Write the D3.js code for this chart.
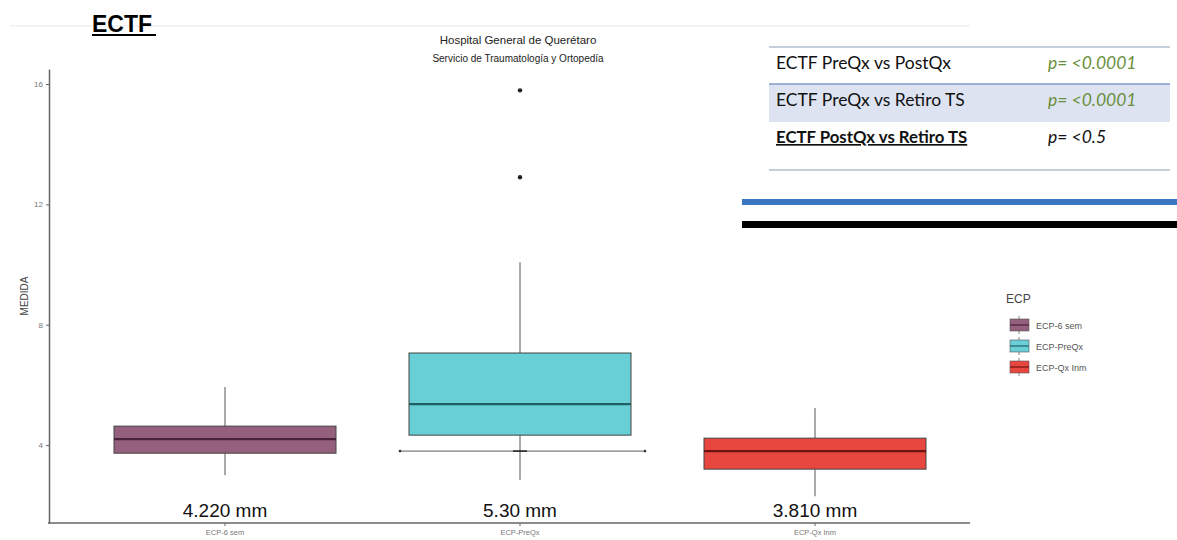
<!DOCTYPE html>
<html><head><meta charset="utf-8">
<script src="https://cdn.jsdelivr.net/npm/d3@7"></script>
<style>body{margin:0;background:#fff;}svg{display:block;}</style>
</head><body>
<svg id="c" width="1177" height="540"></svg>
<script>
const categories = ["ECP-6 sem", "ECP-PreQx", "ECP-Qx Inm"];
const q1 = [3.73, 4.33, 3.20];
const median = [4.20, 5.36, 3.80];
const q3 = [4.63, 7.06, 4.23];
const whiskerLow = [3.00, 2.84, 2.30];
const whiskerHigh = [5.93, 10.08, 5.23];
const outliers = [[], [12.90, 15.79], []];
const meanLabels = ["4.220 mm", "5.30 mm", "3.810 mm"];
const fills = ["#95607d", "#68cfd6", "#e8473f"];
const medianColors = ["#4a2238", "#1f5e62", "#6e1410"];
const yTicks = [4, 8, 12, 16];
const refLineValue = 3.80;
const tableRows = ["ECTF PreQx vs PostQx", "ECTF PreQx vs Retiro TS", "ECTF PostQx vs Retiro TS"];
const tableP = ["p= <0.0001", "p= <0.0001", "p= <0.5"];

const svg = d3.select("#c");
const x = d3.scalePoint().domain(categories).range([225, 815]);
const y = d3.scaleLinear().domain([1.41, 16.5]).range([523, 69]);
const boxW = 222;

// faint top line
svg.append("line").attr("x1",10).attr("x2",970).attr("y1",26).attr("y2",26).attr("stroke","#f0f0f0").attr("stroke-width",1.5);

// ECTF header
svg.append("text").attr("x",92).attr("y",32).attr("font-family","Liberation Sans, Arial").attr("font-weight","bold").attr("font-size",23).attr("fill","#000").text("ECTF");
svg.append("line").attr("x1",92).attr("x2",156).attr("y1",35).attr("y2",35).attr("stroke","#000").attr("stroke-width",2);

// title
svg.append("text").attr("x",518).attr("y",44).attr("text-anchor","middle").attr("font-family","Liberation Sans, Arial").attr("font-size",11.5).attr("fill","#222").text("Hospital General de Querétaro");
svg.append("text").attr("x",518).attr("y",62).attr("text-anchor","middle").attr("font-family","Liberation Sans, Arial").attr("font-size",10).attr("fill","#222").text("Servicio de Traumatología y Ortopedía");

// axes
const yAxis = d3.axisLeft(y).tickValues(yTicks).tickSize(3).tickSizeOuter(0).tickPadding(3);
const gy = svg.append("g").attr("transform","translate(49,0)").call(yAxis);
gy.select(".domain").attr("stroke","#666").attr("stroke-width",1.5);
gy.selectAll(".tick line").attr("stroke","#666");
gy.selectAll(".tick text").attr("font-family","Liberation Sans, Arial").attr("font-size",8).attr("fill","#777");

svg.append("line").attr("x1",48).attr("x2",970).attr("y1",523).attr("y2",523).attr("stroke","#666").attr("stroke-width",1.5);
categories.forEach(c => {
  svg.append("line").attr("x1",x(c)).attr("x2",x(c)).attr("y1",523).attr("y2",526).attr("stroke","#666");
  svg.append("text").attr("x",x(c)).attr("y",535).attr("text-anchor","middle").attr("font-family","Liberation Sans, Arial").attr("font-size",7.5).attr("fill","#777").text(c);
});

svg.append("text").attr("transform","translate(28,296) rotate(-90)").attr("text-anchor","middle").attr("font-family","Liberation Sans, Arial").attr("font-size",10).attr("fill","#444").text("MEDIDA");

// boxes
categories.forEach((c,i) => {
  const cx = x(c);
  svg.append("line").attr("x1",cx).attr("x2",cx).attr("y1",y(whiskerHigh[i])).attr("y2",y(q3[i])).attr("stroke","#555").attr("stroke-width",1);
  svg.append("line").attr("x1",cx).attr("x2",cx).attr("y1",y(q1[i])).attr("y2",y(whiskerLow[i])).attr("stroke","#555").attr("stroke-width",1);
  svg.append("rect").attr("x",cx-boxW/2).attr("y",y(q3[i])).attr("width",boxW).attr("height",y(q1[i])-y(q3[i])).attr("fill",fills[i]).attr("stroke","#444").attr("stroke-width",1);
  svg.append("line").attr("x1",cx-boxW/2).attr("x2",cx+boxW/2).attr("y1",y(median[i])).attr("y2",y(median[i])).attr("stroke",medianColors[i]).attr("stroke-width",2.2);
  outliers[i].forEach(v => svg.append("circle").attr("cx",cx).attr("cy",y(v)).attr("r",2.2).attr("fill","#222"));
  svg.append("text").attr("x",cx).attr("y",517).attr("text-anchor","middle").attr("font-family","Liberation Sans, Arial").attr("font-size",19).attr("fill","#111").text(meanLabels[i]);
});

// reference line across PreQx
const rc = x(categories[1]);
svg.append("line").attr("x1",rc-120).attr("x2",rc+125).attr("y1",y(refLineValue)).attr("y2",y(refLineValue)).attr("stroke","#333").attr("stroke-width",0.8);
svg.append("circle").attr("cx",rc-120).attr("cy",y(refLineValue)).attr("r",1.3).attr("fill","#333");
svg.append("circle").attr("cx",rc+125).attr("cy",y(refLineValue)).attr("r",1.3).attr("fill","#333");
svg.append("line").attr("x1",rc-7).attr("x2",rc+7).attr("y1",y(refLineValue)).attr("y2",y(refLineValue)).attr("stroke","#222").attr("stroke-width",1.5);

// legend
svg.append("text").attr("x",1006).attr("y",303).attr("font-family","Liberation Sans, Arial").attr("font-size",12).attr("fill","#444").text("ECP");
categories.forEach((c,i) => {
  const cy = 325 + i*21;
  svg.append("line").attr("x1",1019).attr("x2",1019).attr("y1",cy-9).attr("y2",cy+9).attr("stroke","#666").attr("stroke-width",0.8);
  svg.append("rect").attr("x",1010).attr("y",cy-6).attr("width",19).attr("height",12).attr("fill",fills[i]).attr("stroke","#555").attr("stroke-width",0.6);
  svg.append("line").attr("x1",1010).attr("x2",1029).attr("y1",cy).attr("y2",cy).attr("stroke",medianColors[i]).attr("stroke-width",1.2);
  svg.append("text").attr("x",1036).attr("y",cy+3.5).attr("font-family","Liberation Sans, Arial").attr("font-size",9).attr("fill","#555").text(c);
});

// table
const tf = "Lato, 'Open Sans', sans-serif";
svg.append("rect").attr("x",769).attr("y",84).attr("width",401).attr("height",38).attr("fill","#dde3f1");
svg.append("line").attr("x1",769).attr("x2",1170).attr("y1",47).attr("y2",47).attr("stroke","#8ea0b8").attr("stroke-width",1.2);
svg.append("line").attr("x1",769).attr("x2",1170).attr("y1",84).attr("y2",84).attr("stroke","#4f6fb0").attr("stroke-width",1.2);
svg.append("line").attr("x1",769).attr("x2",1170).attr("y1",170).attr("y2",170).attr("stroke","#8ea0b8").attr("stroke-width",1.2);
const rowY = [69, 106, 143];
tableRows.forEach((r,i) => {
  const t = svg.append("text").attr("x",776).attr("y",rowY[i]).attr("font-family",tf).attr("font-size",17.5).attr("fill","#111").text(r);
  if (i===2) {
    t.attr("font-weight","bold").attr("text-decoration","underline").attr("font-size",16.8);
  }
  svg.append("text").attr("x",1048).attr("y",rowY[i]).attr("font-family",tf).attr("font-style","italic").attr("font-size",17.5).attr("fill", i<2 ? "#6b8f3c" : "#111").text(tableP[i]);
});
svg.append("rect").attr("x",742).attr("y",199).attr("width",435).attr("height",6).attr("fill","#3a76bf");
svg.append("rect").attr("x",742).attr("y",221).attr("width",435).attr("height",7).attr("fill","#000");
</script>
</body></html>
